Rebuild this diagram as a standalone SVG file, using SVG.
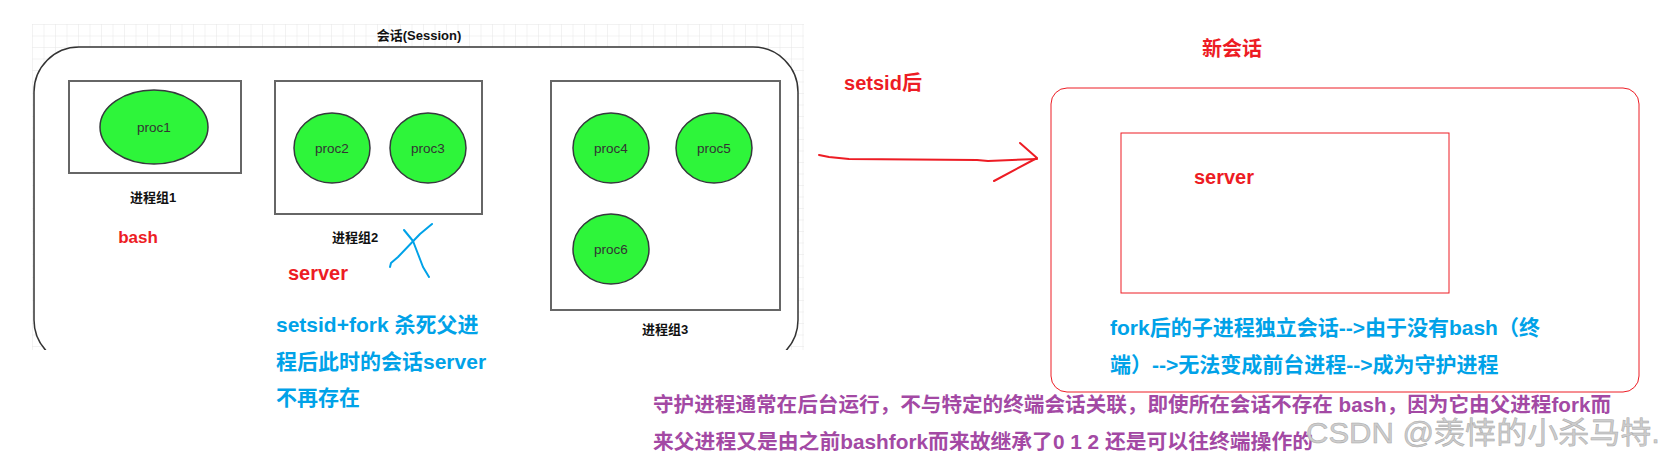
<svg xmlns="http://www.w3.org/2000/svg" width="1669" height="464" viewBox="0 0 1669 464">
<defs>
<pattern id="grid" x="32" y="24" width="11.5" height="11.5" patternUnits="userSpaceOnUse">
<path d="M0 0H11.5M0 0V11.5" fill="none" stroke="#e6e6e6" stroke-width="1"/>
</pattern>
<clipPath id="cut"><rect x="0" y="0" width="820" height="350"/></clipPath>
<style>
.grp{fill:#fff;stroke:#666;stroke-width:2}
.proc{fill:#2ef53a;stroke:#36393d;stroke-width:1.5}
.plab{font-family:"Liberation Sans","Noto Sans CJK SC",sans-serif;font-size:13.5px;fill:#333;text-anchor:middle}
.glab{font-family:"Liberation Sans","Noto Sans CJK SC",sans-serif;font-size:13px;font-weight:bold;fill:#111;text-anchor:middle}
.red{font-family:"Liberation Sans","Noto Sans CJK SC",sans-serif;font-weight:bold;fill:#ed1c24}
.blue{font-family:"Liberation Sans","Noto Sans CJK SC",sans-serif;font-weight:bold;font-size:21px;fill:#00a2e8}
.purple{font-family:"Liberation Sans","Noto Sans CJK SC",sans-serif;font-weight:bold;font-size:20.5px;fill:#a349a4}
.pen{fill:none;stroke-linecap:round;stroke-linejoin:round}
</style>
</defs>
<rect width="1669" height="464" fill="#fff"/>
<rect x="32" y="24" width="772" height="326" fill="url(#grid)"/>

<g id="session" clip-path="url(#cut)">
<rect x="34" y="47" width="764" height="318" rx="45" ry="45" fill="#fff" stroke="#333" stroke-width="1.5"/>
</g>
<text class="glab" x="419" y="40">会话(Session)</text>

<g id="group1">
<rect class="grp" x="69" y="81" width="172" height="92"/>
<ellipse class="proc" cx="154" cy="127" rx="54" ry="37"/>
<text class="plab" x="154" y="132">proc1</text>
<text class="glab" x="153" y="202">进程组1</text>
</g>

<g id="group2">
<rect class="grp" x="275" y="81" width="207" height="133"/>
<ellipse class="proc" cx="332" cy="148" rx="38" ry="35"/>
<text class="plab" x="332" y="153">proc2</text>
<ellipse class="proc" cx="428" cy="148" rx="38" ry="35"/>
<text class="plab" x="428" y="153">proc3</text>
<text class="glab" x="355" y="242">进程组2</text>
</g>

<g id="group3">
<rect class="grp" x="551" y="81" width="229" height="229"/>
<ellipse class="proc" cx="611" cy="148" rx="38" ry="35"/>
<text class="plab" x="611" y="153">proc4</text>
<ellipse class="proc" cx="714" cy="148" rx="38" ry="35"/>
<text class="plab" x="714" y="153">proc5</text>
<ellipse class="proc" cx="611" cy="249" rx="38" ry="35"/>
<text class="plab" x="611" y="254">proc6</text>
<text class="glab" x="665" y="334">进程组3</text>
</g>

<g id="labels-left">
<text class="red" x="138" y="243" font-size="17" text-anchor="middle">bash</text>
<text class="red" x="318" y="280" font-size="20" text-anchor="middle">server</text>
<path class="pen" d="M432 224 L420 234 L398 257 L391 263 L390 267" stroke="#00a2e8" stroke-width="2"/>
<path class="pen" d="M404 230 L413 241 L418 254 L423 267 L429 277" stroke="#00a2e8" stroke-width="2"/>
<text class="blue" x="276" y="332">setsid+fork 杀死父进</text>
<text class="blue" x="276" y="369">程后此时的会话server</text>
<text class="blue" x="276" y="405">不再存在</text>
</g>

<g id="connectors">
<path class="pen" d="M819 155 L829 157 L849 159 L977 160 L988 161 L1037 159" stroke="#ed1c24" stroke-width="2"/>
<path class="pen" d="M1020 143 L1037 158 L994 181" stroke="#ed1c24" stroke-width="2"/>
<text class="red" x="883" y="90" font-size="20" text-anchor="middle">setsid后</text>
</g>

<g id="new-session">
<text class="red" x="1232" y="56" font-size="20" text-anchor="middle">新会话</text>
<rect x="1051" y="88" width="588" height="304" rx="16" ry="16" fill="none" stroke="#ed1c24" stroke-width="1"/>
<rect x="1121" y="133" width="328" height="160" fill="none" stroke="#ed1c24" stroke-width="1"/>
<text class="red" x="1224" y="184" font-size="20" text-anchor="middle">server</text>
<text class="blue" x="1110" y="335">fork后的子进程独立会话--&gt;由于没有bash（终</text>
<text class="blue" x="1110" y="372">端）--&gt;无法变成前台进程--&gt;成为守护进程</text>
</g>

<g id="note">
<text class="purple" x="653" y="412" textLength="958" lengthAdjust="spacingAndGlyphs">守护进程通常在后台运行，不与特定的终端会话关联，即使所在会话不存在 bash，因为它由父进程fork而</text>
<text class="purple" x="653" y="449" textLength="660" lengthAdjust="spacingAndGlyphs">来父进程又是由之前bashfork而来故继承了0 1 2 还是可以往终端操作的</text>
</g>

<text x="1306" y="443" textLength="354" lengthAdjust="spacingAndGlyphs" font-family="'Liberation Sans','Noto Sans CJK SC',sans-serif" font-size="30" fill="#cdcdcd" stroke="#a8a8a8" stroke-width="0.5">CSDN @羡悻的小杀马特.</text>
</svg>
